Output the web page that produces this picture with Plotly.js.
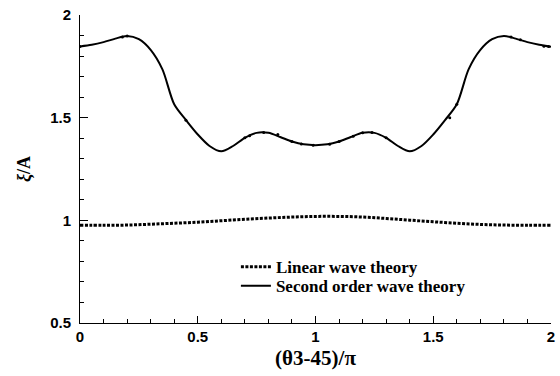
<!DOCTYPE html>
<html>
<head>
<meta charset="utf-8">
<script src="https://cdn.plot.ly/plotly-3.0.1.min.js"></script>
<style>
  html, body { margin: 0; padding: 0; background: #fff; }
  #chart { width: 560px; height: 376px; }
</style>
</head>
<body>
<div id="chart"></div>
<script>
// Angle coordinate (θ3-45)/π
const thetaSecond = [0, 0.05, 0.1, 0.15, 0.2, 0.25, 0.3, 0.35, 0.4, 0.45, 0.5,
  0.55, 0.6, 0.65, 0.7, 0.75, 0.8, 0.85, 0.9, 0.95, 1.0,
  1.05, 1.1, 1.15, 1.2, 1.25, 1.3, 1.35, 1.4, 1.45, 1.5,
  1.55, 1.6, 1.65, 1.7, 1.75, 1.8, 1.85, 1.9, 1.95, 2.0];

// Second order wave theory, ξ/A
const secondOrder = [1.847, 1.855, 1.868, 1.885, 1.898, 1.882, 1.830, 1.735, 1.565, 1.488, 1.418,
  1.362, 1.336, 1.362, 1.402, 1.426, 1.426, 1.406, 1.384, 1.370, 1.366,
  1.370, 1.384, 1.406, 1.426, 1.426, 1.402, 1.362, 1.336, 1.362, 1.418,
  1.488, 1.565, 1.735, 1.830, 1.882, 1.898, 1.885, 1.868, 1.855, 1.845];

// Linear wave theory, ξ/A
const thetaLinear = [0, 0.1, 0.2, 0.3, 0.4, 0.5, 0.6, 0.7, 0.8, 0.9, 1.0,
  1.1, 1.2, 1.3, 1.4, 1.5, 1.6, 1.7, 1.8, 1.9, 2.0];
const linearTheory = [0.976, 0.976, 0.977, 0.981, 0.986, 0.991, 0.998, 1.005, 1.011, 1.016, 1.019,
  1.019, 1.016, 1.009, 1.001, 0.993, 0.986, 0.980, 0.977, 0.976, 0.976];

// Computed sample points lying on the second-order curve
const sampleTheta = [0.0, 0.18, 0.2, 0.45, 0.7, 0.72, 0.78, 0.84, 0.9, 0.94, 0.99,
  1.06, 1.1, 1.16, 1.2, 1.24, 1.3, 1.57, 1.6, 1.83, 1.87, 1.97, 1.99];
const sampleValues = [1.847, 1.893, 1.898, 1.488, 1.402, 1.412, 1.428, 1.418, 1.384, 1.372, 1.366,
  1.370, 1.384, 1.410, 1.426, 1.428, 1.402, 1.500, 1.565, 1.893, 1.880, 1.848, 1.846];

const xTicks = [0, 0.5, 1, 1.5, 2];
const xTickText = ['0', '0.5', '1', '1.5', '2'];
const yTicks = [0.5, 1, 1.5, 2];
const yTickText = ['0.5', '1', '1.5', '2'];

const bold = s => '<b>' + s + '</b>';
const sans = { family: 'Liberation Sans, Arial, sans-serif', size: 15, color: '#000' };
const serif = 'Liberation Serif, Times New Roman, serif';

const traces = [
  {
    x: thetaLinear, y: linearTheory, type: 'scatter', mode: 'lines',
    name: bold('Linear wave theory'), legend: 'legend',
    line: { color: '#000', width: 3, dash: '3px,1.5px', shape: 'spline' }
  },
  {
    x: thetaSecond, y: secondOrder, type: 'scatter', mode: 'lines',
    name: bold('Second order wave theory'), legend: 'legend2',
    line: { color: '#000', width: 2, shape: 'spline', smoothing: 0.8 }
  },
  {
    x: sampleTheta, y: sampleValues, type: 'scatter', mode: 'markers',
    showlegend: false, hoverinfo: 'skip',
    marker: { color: '#000', size: 3 }
  }
];

const legendStyle = (y) => ({
  x: 0.331, y: y, xanchor: 'left', yanchor: 'top',
  bgcolor: 'rgba(0,0,0,0)', borderwidth: 0,
  font: { family: serif, size: 17, color: '#000' }
});

const layout = {
  width: 560, height: 376,
  margin: { l: 80, r: 9, t: 15, b: 53 },
  paper_bgcolor: '#fff', plot_bgcolor: '#fff',
  showlegend: true,
  legend: legendStyle(0.240),
  legend2: legendStyle(0.178),
  xaxis: {
    range: [0, 2], tickvals: xTicks, ticktext: xTickText.map(bold),
    showgrid: false, zeroline: false, showline: true, linecolor: '#000', linewidth: 1,
    ticks: 'inside', ticklen: 7, tickwidth: 1, tickcolor: '#000',
    minor: { dtick: 0.1, ticks: 'inside', ticklen: 4, tickwidth: 1, tickcolor: '#000', showgrid: false },
    tickfont: sans,
    title: { text: bold('(θ3-45)/π'), font: { family: serif, size: 21, color: '#000' }, standoff: 6 }
  },
  yaxis: {
    range: [0.5, 2], tickvals: yTicks, ticktext: yTickText.map(bold),
    showgrid: false, zeroline: false, showline: true, linecolor: '#000', linewidth: 1,
    ticks: 'inside', ticklen: 8, tickwidth: 1, tickcolor: '#000',
    minor: { dtick: 0.1, ticks: 'inside', ticklen: 4, tickwidth: 1, tickcolor: '#000', showgrid: false },
    tickfont: sans, ticklabelstandoff: 5,
    title: { text: bold('<i>ξ</i>/A'), font: { family: serif, size: 18, color: '#000' }, standoff: 14 }
  }
};

Plotly.newPlot('chart', traces, layout, { staticPlot: true, displayModeBar: false });
</script>
</body>
</html>
